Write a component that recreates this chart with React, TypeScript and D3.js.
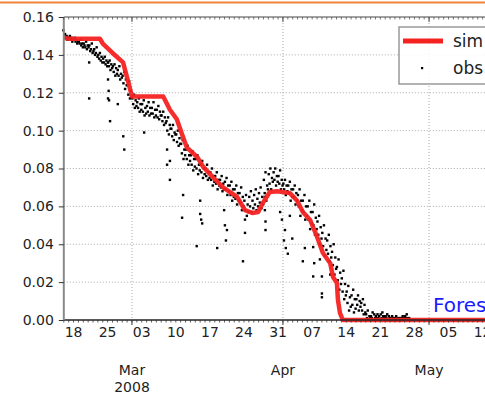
import * as d3 from 'd3';
import { useEffect, useRef } from 'react';

// simulated soil moisture (time, value)
const simTimes = [
  '2008-02-16 00', '2008-02-17 00', '2008-02-23 10', '2008-02-24 00', '2008-02-26 00',
  '2008-02-28 04', '2008-02-29 00', '2008-03-01 00', '2008-03-07 10', '2008-03-08 19',
  '2008-03-10 05', '2008-03-11 07', '2008-03-12 07', '2008-03-14 10', '2008-03-15 14',
  '2008-03-17 14', '2008-03-19 17', '2008-03-22 14', '2008-03-24 05', '2008-03-25 17',
  '2008-03-26 22', '2008-03-27 22', '2008-03-29 07', '2008-03-30 19', '2008-04-02 10',
  '2008-04-03 22', '2008-04-05 02', '2008-04-06 14', '2008-04-08 00', '2008-04-09 05',
  '2008-04-10 17', '2008-04-11 07', '2008-04-12 02', '2008-04-12 07', '2008-04-12 17',
  '2008-04-13 07', '2008-05-20 00',
];
const simValues = [
  0.149, 0.1485, 0.1485, 0.146, 0.141,
  0.136, 0.128, 0.118, 0.118, 0.111,
  0.106, 0.098, 0.091, 0.086, 0.081,
  0.0755, 0.07, 0.065, 0.058, 0.0565,
  0.057, 0.062, 0.0676, 0.068, 0.067,
  0.063, 0.057, 0.0528, 0.044, 0.0354,
  0.03, 0.0227, 0.0195, 0.0106, 0.0037,
  0, 0,
];

// observations: one row per day from Feb 16, six readings each (every 4 h)
const obsDaily = [
  [0.15, 0.151, 0.149, 0.15, 0.148, 0.149],
  [0.149, 0.15, 0.148, 0.149, 0.147, 0.148],
  [0.148, 0.149, 0.147, 0.148, 0.146, 0.147],
  [0.147, 0.146, 0.148, 0.145, 0.146, 0.144],
  [0.146, 0.145, 0.144, 0.147, 0.143, 0.145],
  [0.144, 0.145, 0.142, 0.143, 0.146, 0.141],
  [0.142, 0.143, 0.14, 0.141, 0.144, 0.139],
  [0.14, 0.138, 0.141, 0.137, 0.139, 0.136],
  [0.138, 0.136, 0.139, 0.135, 0.137, 0.134],
  [0.136, 0.134, 0.137, 0.132, 0.135, 0.133],
  [0.134, 0.131, 0.135, 0.129, 0.133, 0.13],
  [0.132, 0.129, 0.134, 0.127, 0.13, 0.128],
  [0.129, 0.125, 0.131, 0.122, 0.127, 0.124],
  [0.124, 0.119, 0.126, 0.117, 0.121, 0.118],
  [0.117, 0.114, 0.119, 0.112, 0.116, 0.113],
  [0.115, 0.112, 0.117, 0.11, 0.114, 0.111],
  [0.114, 0.11, 0.116, 0.108, 0.112, 0.109],
  [0.113, 0.11, 0.115, 0.108, 0.112, 0.109],
  [0.112, 0.109, 0.115, 0.107, 0.111, 0.108],
  [0.111, 0.107, 0.113, 0.106, 0.11, 0.108],
  [0.108, 0.105, 0.11, 0.103, 0.107, 0.104],
  [0.105, 0.1, 0.107, 0.098, 0.103, 0.101],
  [0.101, 0.097, 0.103, 0.095, 0.099, 0.098],
  [0.098, 0.094, 0.1, 0.092, 0.096, 0.093],
  [0.093, 0.088, 0.095, 0.085, 0.09, 0.087],
  [0.09, 0.085, 0.092, 0.082, 0.087, 0.084],
  [0.087, 0.082, 0.089, 0.079, 0.085, 0.081],
  [0.085, 0.08, 0.087, 0.077, 0.082, 0.079],
  [0.082, 0.078, 0.084, 0.075, 0.08, 0.077],
  [0.08, 0.076, 0.082, 0.074, 0.078, 0.075],
  [0.078, 0.074, 0.08, 0.071, 0.076, 0.073],
  [0.076, 0.072, 0.078, 0.069, 0.074, 0.071],
  [0.074, 0.07, 0.076, 0.068, 0.072, 0.069],
  [0.073, 0.069, 0.075, 0.066, 0.071, 0.068],
  [0.071, 0.066, 0.073, 0.063, 0.069, 0.065],
  [0.069, 0.064, 0.071, 0.061, 0.067, 0.063],
  [0.067, 0.062, 0.07, 0.058, 0.065, 0.06],
  [0.063, 0.058, 0.066, 0.055, 0.061, 0.057],
  [0.065, 0.06, 0.068, 0.057, 0.063, 0.059],
  [0.066, 0.061, 0.069, 0.058, 0.064, 0.06],
  [0.067, 0.062, 0.07, 0.059, 0.065, 0.061],
  [0.074, 0.067, 0.078, 0.063, 0.071, 0.069],
  [0.077, 0.072, 0.08, 0.069, 0.075, 0.073],
  [0.078, 0.074, 0.08, 0.071, 0.076, 0.073],
  [0.076, 0.072, 0.079, 0.069, 0.074, 0.071],
  [0.072, 0.069, 0.074, 0.066, 0.071, 0.068],
  [0.071, 0.067, 0.073, 0.063, 0.069, 0.065],
  [0.069, 0.065, 0.071, 0.061, 0.067, 0.063],
  [0.066, 0.06, 0.069, 0.055, 0.063, 0.058],
  [0.063, 0.057, 0.066, 0.053, 0.06, 0.055],
  [0.06, 0.053, 0.063, 0.048, 0.057, 0.051],
  [0.057, 0.05, 0.061, 0.045, 0.054, 0.048],
  [0.052, 0.045, 0.055, 0.04, 0.049, 0.043],
  [0.046, 0.039, 0.05, 0.034, 0.043, 0.037],
  [0.042, 0.035, 0.045, 0.031, 0.039, 0.033],
  [0.036, 0.029, 0.04, 0.024, 0.033, 0.027],
  [0.028, 0.021, 0.032, 0.016, 0.025, 0.019],
  [0.022, 0.015, 0.026, 0.011, 0.019, 0.013],
  [0.015, 0.009, 0.018, 0.005, 0.012, 0.007],
  [0.013, 0.008, 0.016, 0.004, 0.011, 0.006],
  [0.011, 0.008, 0.013, 0.005, 0.01, 0.007],
  [0.009, 0.005, 0.011, 0.003, 0.008, 0.004],
  [0.003, 0.001, 0.005, 0.0, 0.002, 0.001],
  [0.002, 0.001, 0.004, 0.0, 0.003, 0.001],
  [0.002, 0.001, 0.003, 0.001, 0.002, 0.0],
  [0.003, 0.001, 0.004, 0.002, 0.001, 0.002],
  [0.002, 0.001, 0.003, 0.0, 0.002, 0.001],
  [0.001, 0.0, 0.002, 0.001, 0.0, 0.001],
  [0.001, 0.002, 0.0, 0.001, 0.0, 0.001],
  [0.001, 0.0, 0.001, 0.002, 0.0, 0.001],
  [0.002, 0.001, 0.003, 0.001, 0.0, 0.001],
];

// scattered low readings: [days since Feb 16, value]
const obsOutliers: [number, number][] = [
  [-0.1, 0.153], [5.2, 0.136], [5.2, 0.117], [9.1, 0.136], [9.1, 0.127], [9.2, 0.121],
  [9.1, 0.117], [9.3, 0.116], [11.1, 0.114], [9.5, 0.105], [12.2, 0.097], [12.4, 0.09],
  [16.5, 0.099], [21.2, 0.09], [21.2, 0.082], [21.8, 0.074], [21.8, 0.084], [24.3, 0.054],
  [24.5, 0.066], [27.3, 0.039], [28, 0.063], [28, 0.056], [28.2, 0.053], [28.4, 0.051],
  [31.5, 0.038], [33.5, 0.0475], [32.9, 0.058], [33.1, 0.05], [33.3, 0.042], [37.2, 0.053],
  [37.2, 0.046], [36.8, 0.031], [41.3, 0.065], [41.3, 0.058], [41.4, 0.052], [41.4, 0.0475],
  [44.4, 0.057], [44.8, 0.053], [45.4, 0.0475], [45.2, 0.042], [45.6, 0.038], [46, 0.035],
  [46.9, 0.043], [46.4, 0.055], [49.5, 0.038], [49.1, 0.031], [51.2, 0.0385], [51.4, 0.03],
  [51.2, 0.023], [52.6, 0.032], [53, 0.023], [53, 0.014], [53, 0.012], [54.7, 0.024],
];

const yTicks = [0, 0.02, 0.04, 0.06, 0.08, 0.1, 0.12, 0.14, 0.16];
const startDate = '2008-02-16 00';
const endDate = '2008-05-20 00';

const W = 485;
const H = 394;
const margin = { left: 63.8, top: 17, bottom: 74 };
const FONT = 'DejaVu Sans, Verdana, sans-serif';

export default function App() {
  const svgRef = useRef<SVGSVGElement>(null);

  useEffect(() => {
    if (!svgRef.current) return;
    const svg = d3.select(svgRef.current);
    svg.selectAll('*').remove();

    const parse = d3.timeParse('%Y-%m-%d %H')!;
    const t0 = parse(startDate)!;
    const t1 = parse(endDate)!;
    const bottom = H - margin.bottom;
    const right = margin.left + 94 * 4.87;

    const x = d3.scaleTime().domain([t0, t1]).range([margin.left, right]);
    const y = d3.scaleLinear().domain([0, 0.16]).range([bottom, margin.top]);

    // orange rule at the very top
    svg.append('line')
      .attr('x1', 0).attr('x2', W).attr('y1', 2.5).attr('y2', 2.5)
      .attr('stroke', '#f0843c').attr('stroke-width', 2);

    const g = svg.append('g');

    // grid
    g.append('g')
      .selectAll('line')
      .data(yTicks.slice(1, -1))
      .join('line')
      .attr('x1', margin.left).attr('x2', right)
      .attr('y1', (d) => y(d)).attr('y2', (d) => y(d))
      .attr('stroke', '#aaa').attr('stroke-dasharray', '1,2');
    g.append('g')
      .selectAll('line')
      .data(d3.timeMonth.range(d3.timeMonth.ceil(t0), t1))
      .join('line')
      .attr('x1', (d) => x(d)).attr('x2', (d) => x(d))
      .attr('y1', margin.top).attr('y2', bottom)
      .attr('stroke', '#aaa').attr('stroke-dasharray', '1,2');

    // observations
    const obsPts: [Date, number][] = [];
    obsDaily.forEach((row, day) => {
      row.forEach((v, i) => {
        obsPts.push([d3.timeHour.offset(t0, day * 24 + i * 4 + 2), v]);
      });
    });
    obsOutliers.forEach(([d, v]) => {
      obsPts.push([d3.timeHour.offset(t0, Math.round(d * 24)), v]);
    });
    g.append('g')
      .selectAll('rect')
      .data(obsPts)
      .join('rect')
      .attr('x', (d) => x(d[0]) - 1.2)
      .attr('y', (d) => y(d[1]) - 1.2)
      .attr('width', 2.4)
      .attr('height', 2.4)
      .attr('fill', '#000');

    // simulation
    const sim = simTimes.map((s, i) => [parse(s)!, simValues[i]] as [Date, number]);
    const line = d3.line<[Date, number]>().x((d) => x(d[0])).y((d) => y(d[1]));
    g.append('path')
      .datum(sim)
      .attr('d', line)
      .attr('fill', 'none')
      .attr('stroke', '#f52222')
      .attr('stroke-width', 4.5)
      .attr('stroke-linejoin', 'round')
      .attr('opacity', 0.95);

    // frame
    svg.append('line')
      .attr('x1', margin.left).attr('x2', right).attr('y1', margin.top).attr('y2', margin.top)
      .attr('stroke', '#444').attr('stroke-width', 1);
    svg.append('line')
      .attr('x1', margin.left).attr('x2', right).attr('y1', bottom).attr('y2', bottom)
      .attr('stroke', '#222').attr('stroke-width', 1.5);
    svg.append('line')
      .attr('x1', margin.left).attr('x2', margin.left).attr('y1', margin.top).attr('y2', bottom)
      .attr('stroke', '#888').attr('stroke-width', 2);

    // minor day ticks top/bottom
    const days = d3.timeDay.range(t0, t1);
    svg.append('g')
      .selectAll('line')
      .data(days)
      .join('line')
      .attr('x1', (d) => x(d)).attr('x2', (d) => x(d))
      .attr('y1', bottom).attr('y2', bottom + 2.5)
      .attr('stroke', '#333').attr('stroke-width', 0.8);
    svg.append('g')
      .selectAll('line')
      .data(days)
      .join('line')
      .attr('x1', (d) => x(d)).attr('x2', (d) => x(d))
      .attr('y1', margin.top).attr('y2', margin.top + 2.5)
      .attr('stroke', '#555').attr('stroke-width', 0.8);

    // month major ticks
    const months = d3.timeMonth.range(d3.timeMonth.ceil(t0), t1);
    svg.append('g')
      .selectAll('line')
      .data(months)
      .join('line')
      .attr('x1', (d) => x(d)).attr('x2', (d) => x(d))
      .attr('y1', bottom).attr('y2', bottom + 5)
      .attr('stroke', '#333');
    svg.append('g')
      .selectAll('line')
      .data(months)
      .join('line')
      .attr('x1', (d) => x(d)).attr('x2', (d) => x(d))
      .attr('y1', margin.top).attr('y2', margin.top + 5)
      .attr('stroke', '#555');

    // y axis
    const yAxis = svg.append('g')
      .attr('transform', `translate(${margin.left},0)`)
      .call(d3.axisLeft(y).tickValues(yTicks).tickSize(5).tickPadding(5).tickFormat(d3.format('.2f')));
    yAxis.select('.domain').remove();
    yAxis.selectAll('.tick line').attr('stroke', '#333');
    yAxis.selectAll('.tick text')
      .attr('font-family', FONT).attr('font-size', 14).attr('fill', '#222');

    // x labels: weekly Mondays
    const weekFmt = d3.timeFormat('%d');
    svg.append('g')
      .selectAll('text')
      .data(d3.timeMonday.range(t0, t1))
      .join('text')
      .attr('x', (d) => x(d))
      .attr('y', bottom + 17)
      .attr('text-anchor', 'middle')
      .attr('font-family', FONT).attr('font-size', 14).attr('fill', '#222')
      .text((d) => weekFmt(d));
    const monFmt = d3.timeFormat('%b');
    svg.append('g')
      .selectAll('text')
      .data(months)
      .join('text')
      .attr('x', (d) => x(d))
      .attr('y', bottom + 55)
      .attr('text-anchor', 'middle')
      .attr('font-family', FONT).attr('font-size', 14).attr('fill', '#222')
      .text((d) => monFmt(d));
    svg.append('text')
      .attr('x', x(months[0]))
      .attr('y', bottom + 72)
      .attr('text-anchor', 'middle')
      .attr('font-family', FONT).attr('font-size', 14).attr('fill', '#222')
      .text('2008');

    // site label
    svg.append('text')
      .attr('x', 433).attr('y', 312)
      .attr('font-family', FONT).attr('font-size', 20).attr('fill', '#1a1aff')
      .text('Forest');

    // legend
    const lg = svg.append('g');
    lg.append('rect')
      .attr('x', 399).attr('y', 27).attr('width', 110).attr('height', 57)
      .attr('fill', '#fff').attr('fill-opacity', 0.85)
      .attr('stroke', '#999').attr('stroke-width', 1.5);
    lg.append('line')
      .attr('x1', 403).attr('x2', 443).attr('y1', 41).attr('y2', 41)
      .attr('stroke', '#f52222').attr('stroke-width', 5);
    lg.append('rect').attr('x', 421).attr('y', 67).attr('width', 2.2).attr('height', 2.2).attr('fill', '#000');
    lg.append('text')
      .attr('x', 453).attr('y', 47)
      .attr('font-family', FONT).attr('font-size', 17).attr('fill', '#222')
      .text('sim');
    lg.append('text')
      .attr('x', 453).attr('y', 74)
      .attr('font-family', FONT).attr('font-size', 17).attr('fill', '#222')
      .text('obs');
  }, []);

  return (
    <svg
      ref={svgRef}
      width={W}
      height={H}
      style={{ position: 'absolute', left: 0, top: 0, background: '#fff' }}
    />
  );
}
